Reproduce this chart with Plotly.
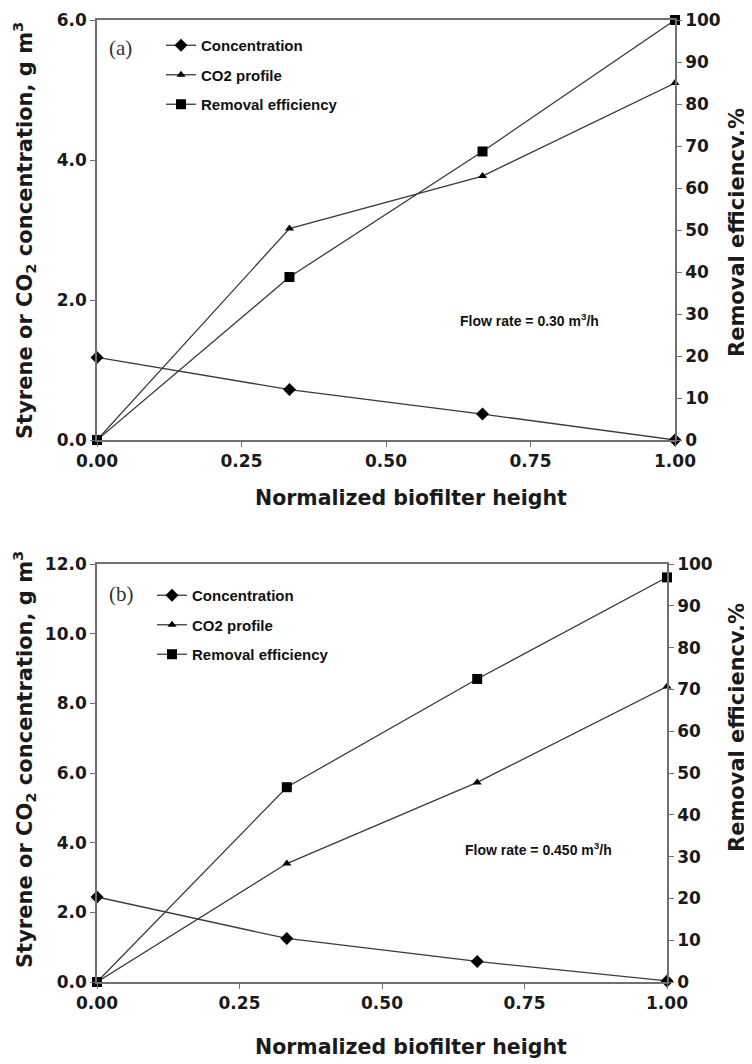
import plotly.graph_objects as go

# ---------------- data ----------------
heights = [0.0, 0.333, 0.667, 1.0]          # normalized biofilter height
x_ticks = [0.0, 0.25, 0.50, 0.75, 1.00]
series_names = ["Concentration", "CO2 profile", "Removal efficiency"]

# panel (a): flow rate 0.30 m3/h
a_conc = [1.18, 0.72, 0.37, 0.00]   # g m-3 (left axis)
a_co2 = [0.00, 3.02, 3.77, 5.10]    # g m-3 (left axis)
a_re = [0.0, 38.8, 68.7, 100.0]     # % (right axis)

# panel (b): flow rate 0.450 m3/h
b_conc = [2.44, 1.25, 0.59, 0.03]
b_co2 = [0.00, 3.40, 5.73, 8.48]
b_re = [0.0, 46.6, 72.5, 96.8]

a_left_ticks = [0.0, 2.0, 4.0, 6.0]
b_left_ticks = [0.0, 2.0, 4.0, 6.0, 8.0, 10.0, 12.0]
right_ticks = list(range(0, 101, 10))

# the page body has an 8px margin, so the figure is drawn 8px in from the corner
OFF = 8
W, H = 752 - OFF, 1064 - OFF
def px(x):
    return (x - OFF) / W
def py(y):
    return 1 - (y - OFF) / H

LINE = "#3a3a3a"
AX = "#707070"
symbols = ["diamond", "triangle-up", "square"]
msizes = [10, 8, 10]

fig = go.Figure()

def add_panel(conc, co2, re, xa, ya_left, ya_right, legend_name):
    vals = [conc, co2, re]
    yas = [ya_left, ya_left, ya_right]
    for i in range(3):
        fig.add_trace(go.Scatter(
            x=heights, y=vals[i], name=series_names[i], mode="lines+markers",
            xaxis=xa, yaxis=yas[i], legend=legend_name,
            legendgroup=legend_name + str(i),
            line=dict(color=LINE, width=1.3),
            marker=dict(symbol=symbols[i], size=msizes[i], color="black"),
            cliponaxis=False,
        ))

add_panel(a_conc, a_co2, a_re, "x", "y", "y2", "legend")
add_panel(b_conc, b_co2, b_re, "x2", "y3", "y4", "legend2")

tickfont = dict(family="DejaVu Sans", size=17, color="#1a1a1a", weight="bold")
common = dict(showline=True, linecolor=AX, linewidth=1.6, ticks="outside",
              ticklen=5, tickwidth=1.3, tickcolor=AX, showgrid=False,
              zeroline=False, tickfont=tickfont, automargin=False)

xa_dom = [px(97), px(675)]
xb_dom = [px(97), px(667)]
ya_dom = [py(440), py(20)]
yb_dom = [py(982), py(564)]

legend_font = dict(family="Arial", size=15, color="#111", weight="bold")
fig.update_layout(
    width=W, height=H,
    margin=dict(l=0, r=0, t=0, b=0, autoexpand=False),
    paper_bgcolor="white", plot_bgcolor="white",
    xaxis=dict(domain=xa_dom, anchor="y", range=[0, 1], tickvals=x_ticks,
               tickformat=".2f", mirror=True, **common),
    yaxis=dict(domain=ya_dom, anchor="x", range=[0, 6], tickvals=a_left_ticks,
               tickformat=".1f", **common),
    yaxis2=dict(domain=ya_dom, anchor="x", overlaying="y", side="right",
                range=[0, 100], tickvals=right_ticks, **common),
    xaxis2=dict(domain=xb_dom, anchor="y3", range=[0, 1], tickvals=x_ticks,
                tickformat=".2f", mirror=True, **common),
    yaxis3=dict(domain=yb_dom, anchor="x2", range=[0, 12], tickvals=b_left_ticks,
                tickformat=".1f", **common),
    yaxis4=dict(domain=yb_dom, anchor="x2", overlaying="y3", side="right",
                range=[0, 100], tickvals=right_ticks, **common),
    legend=dict(x=px(161), y=py(29), xanchor="left", yanchor="top",
                bgcolor="rgba(0,0,0,0)", tracegroupgap=7, font=legend_font),
    legend2=dict(x=px(152), y=py(579), xanchor="left", yanchor="top",
                 bgcolor="rgba(0,0,0,0)", tracegroupgap=7, font=legend_font),
    showlegend=True,
)

side_font = dict(family="DejaVu Sans", size=21, color="#1a1a1a", weight="bold")
x_font = dict(family="DejaVu Sans", size=20.5, color="#1a1a1a", weight="bold")
left_title = "Styrene or CO<sub>2</sub> concentration, g m<sup>3</sup>"
right_title = "Removal efficiency,%"
x_title = "Normalized biofilter height"

ann = []
def text(x, y, t, font, angle=0):
    ann.append(dict(x=px(x), y=py(y), xref="paper", yref="paper", text=t,
                    showarrow=False, xanchor="center", yanchor="middle",
                    textangle=angle, font=font))

# panel (a)
text(24, 231, left_title, side_font, -90)
text(737, 233, right_title, side_font, -90)
text(411, 498, x_title, x_font)
text(120, 48, "(a)", dict(family="Liberation Serif", size=21, color="#333"))
text(529, 320, "Flow rate = 0.30 m<sup>3</sup>/h",
     dict(family="Arial", size=14, color="#111", weight="bold"))
# panel (b)
text(24, 760, left_title, side_font, -90)
text(737, 728, right_title, side_font, -90)
text(411, 1047, x_title, x_font)
text(121, 594, "(b)", dict(family="Liberation Serif", size=21, color="#333"))
text(538, 849, "Flow rate = 0.450 m<sup>3</sup>/h",
     dict(family="Arial", size=14, color="#111", weight="bold"))

fig.update_layout(annotations=ann)
fig.write_html("out.html")
